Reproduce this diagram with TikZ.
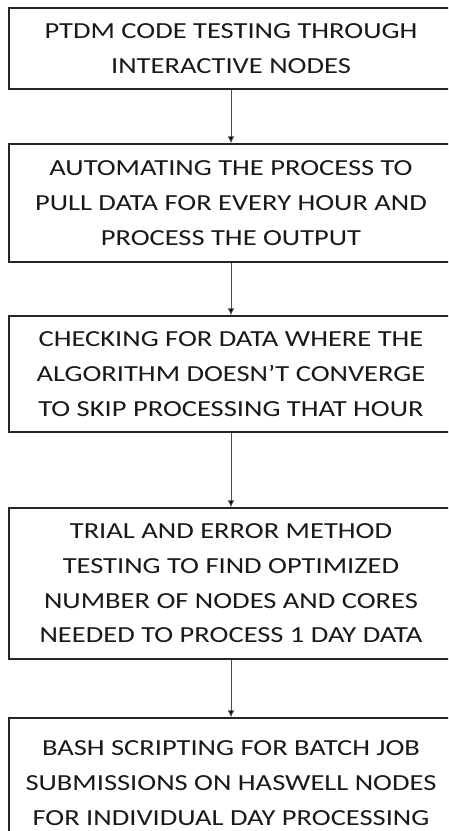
\documentclass[tikz,border=0pt]{standalone}
\usepackage{fontspec}
\setmainfont{Carlito}[FakeStretch=1.24]
\usetikzlibrary{arrows.meta}
\tikzset{
  stepbox/.style={draw=black!85, line width=1.3pt, minimum width=444pt, inner sep=0pt,
    align=center, font=\fontsize{23}{34.7}\selectfont, text=black!90},
  flow/.style={draw=black!70, line width=0.8pt, -{Latex[length=7pt,width=6.5pt,fill=black]}}
}
\begin{document}
\begin{tikzpicture}[x=1pt,y=-1pt]
\useasboundingbox (0,0) rectangle (448,831);
\clip (0,0) rectangle (448,831);
\fill[white] (0,0) rectangle (448,831);
\node[stepbox, minimum height=81pt] (b1) at (231,48.5) {PTDM CODE TESTING THROUGH\\INTERACTIVE NODES};
\node[stepbox, minimum height=118pt] (b2) at (231,203) {AUTOMATING THE PROCESS TO\\PULL DATA FOR EVERY HOUR AND\\PROCESS THE OUTPUT};
\node[stepbox, minimum height=116pt] (b3) at (231,374) {CHECKING FOR DATA WHERE THE\\ALGORITHM DOESN’T CONVERGE\\TO SKIP PROCESSING THAT HOUR};
\node[stepbox, minimum height=151pt] (b4) at (231,583.5) {TRIAL AND ERROR METHOD\\TESTING TO FIND OPTIMIZED\\NUMBER OF NODES AND CORES\\NEEDED TO PROCESS 1 DAY DATA};
\node[stepbox, minimum height=130pt] (b5) at (231,783) {BASH SCRIPTING FOR BATCH JOB\\SUBMISSIONS ON HASWELL NODES\\FOR INDIVIDUAL DAY PROCESSING};
\draw[flow] (b1.south) -- (b2.north);
\draw[flow] (b2.south) -- (b3.north);
\draw[flow] (b3.south) -- (b4.north);
\draw[flow] (b4.south) -- (b5.north);
\end{tikzpicture}
\end{document}
